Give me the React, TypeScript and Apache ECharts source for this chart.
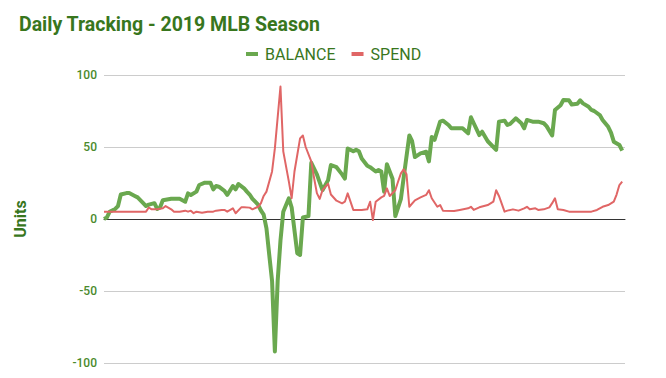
import React, { useEffect, useRef } from "react";
import * as echarts from "echarts";

const balanceDays = [0,1,2,4,5,6,8,9,11,12,14,15,16,18,19,20,21,24,26,27,29,30,31,33,34,36,38,39,40,41,43,44,46,47,48,50,51,52,53,55,56,57,58,59,60,61,62,63,64,66,67,69,70,71,73,74,76,78,80,81,83,85,86,87,89,90,91,92,94,95,97,98,99,100,101,103,104,106,107,109,110,111,113,115,116,117,118,120,121,123,124,126,128,130,131,132,134,135,137,140,141,143,144,145,147,149,150,151,153,155,157,158,160,161,163,164,166,167,169,170,171,173,174,175,177,178,180,181,182,184,185];
const balance = [0,1,5,7,9,17,18,18,16,15,11,9,10,11,7,8,13,14,14,14,12,17.8,16.7,19,23.6,25.2,25.2,20.6,22.9,22.4,19.6,16.7,22.9,20.6,24.3,21.3,19,17,14,10,6,3,-6.5,-25,-43,-92,-43,-15,5,14.4,8,-23.8,-25,1,2,39,31,20,27,37.5,36,31,28,49,47,48,47,42,37,36,33,34,33,19,38,28,2,14,29,58,54,43,45.6,46.7,40,57,55,67.6,68.3,65.3,63,63,63,59.5,70.6,66.5,58.3,60.6,54,48,67.6,68.3,65.3,66,69.9,66.5,63,68.8,67.6,67.6,66.5,64.5,58,75.7,79,82.6,82.4,79.5,80,82.4,80.3,78,75.7,75,72.2,68.8,64,60,53.7,51.4,47.5];

const spendDays = [0,15,16,17,19,21,22,24,25,27,29,30,31,32,33,35,37,39,40,42,43,44,46,47,49,50,52,53,55,56,57,58,60,61,63,64,66,67,68,70,71,72,74,75,76,77,78,80,81,83,85,86,87,89,90,92,94,95,96,97,99,100,101,102,104,105,106,107,108,109,111,113,115,116,117,119,120,121,125,127,130,131,132,134,137,139,140,141,143,144,146,148,150,151,152,154,155,157,159,160,161,162,164,166,168,171,174,176,178,180,182,183,184,185];
const spend = [5,5.1,8,6.7,6.7,7.4,9,6.7,5,5,5.8,5.1,5.8,4,5.1,4.4,5.1,5.1,5.8,6.3,6.3,5.1,7.4,4,8.1,8.1,7.9,6.7,8.5,10.9,16,19,33,49,92,47,26,14.4,33,56,58,50,40,28.5,18,14,20,24.5,17,12.7,10.9,12,17.8,6.3,6.3,6.3,6.7,12,-0.7,12,15,16,21.3,16,20,26,31.7,34.5,31,8.5,13,15,16.7,20,14.4,8.5,9.7,5.8,5.6,6.3,7.4,8.5,6.3,8.1,9.7,12,20,16,5.1,5.8,6.7,5.8,7.4,8.5,6.7,7.4,6.3,6.7,8.1,11,14.4,6.7,6.3,5.1,5.1,5.1,5.1,6.3,8.5,9.7,12,17,23.6,26];

const yTicks = [-100, -50, 0, 50, 100];

export default function App() {
  const ref = useRef<HTMLDivElement>(null);
  useEffect(() => {
    if (!ref.current) return;
    const chart = echarts.init(ref.current, null, { renderer: "svg" });
    const font = "Roboto, Arial, sans-serif";
    chart.setOption({
      animation: false,
      backgroundColor: "#ffffff",
      title: {
        text: "Daily Tracking - 2019 MLB Season",
        left: 14,
        top: 9,
        textStyle: { fontFamily: font, fontSize: 19.5, fontWeight: "bold", color: "#38761d" },
      },
      legend: {
        top: 41,
        left: 241,
        itemWidth: 12,
        itemHeight: 4,
        itemGap: 16,
        icon: "rect",
        textStyle: { fontFamily: font, fontSize: 16, color: "#38761d", padding: [0, 0, 0, 2] },
        data: ["BALANCE", "SPEND"],
      },
      grid: { left: 104, right: 41, top: 75, bottom: 15, containLabel: false },
      xAxis: {
        type: "value",
        min: 0,
        max: 186,
        axisLine: { show: true, onZero: true, lineStyle: { color: "#333333", width: 1 } },
        axisTick: { show: false },
        axisLabel: { show: false },
        splitLine: { show: false },
      },
      yAxis: {
        type: "value",
        min: yTicks[0],
        max: yTicks[yTicks.length - 1],
        interval: 50,
        name: "Units",
        nameLocation: "middle",
        nameGap: 76,
        nameTextStyle: { fontFamily: font, fontSize: 16, fontWeight: "bold", color: "#38761d" },
        axisLine: { show: false },
        axisTick: { show: false },
        axisLabel: { fontFamily: font, fontSize: 12, fontWeight: 500, color: "#4a8a2c", margin: 7 },
        splitLine: { lineStyle: { color: "#cccccc", width: 1 } },
      },
      series: [
        {
          name: "BALANCE",
          type: "line",
          symbol: "none",
          data: balanceDays.map((d, i) => [d, balance[i]]),
          itemStyle: { color: "#6aa84f" },
          lineStyle: { color: "#6aa84f", width: 4, join: "round" },
        },
        {
          name: "SPEND",
          type: "line",
          symbol: "none",
          data: spendDays.map((d, i) => [d, spend[i]]),
          itemStyle: { color: "#e06666" },
          lineStyle: { color: "#e06666", width: 2, join: "round" },
        },
      ],
    });
    return () => chart.dispose();
  }, []);
  return <div ref={ref} style={{ width: 666, height: 378, position: "absolute", left: 0, top: 0 }} />;
}
